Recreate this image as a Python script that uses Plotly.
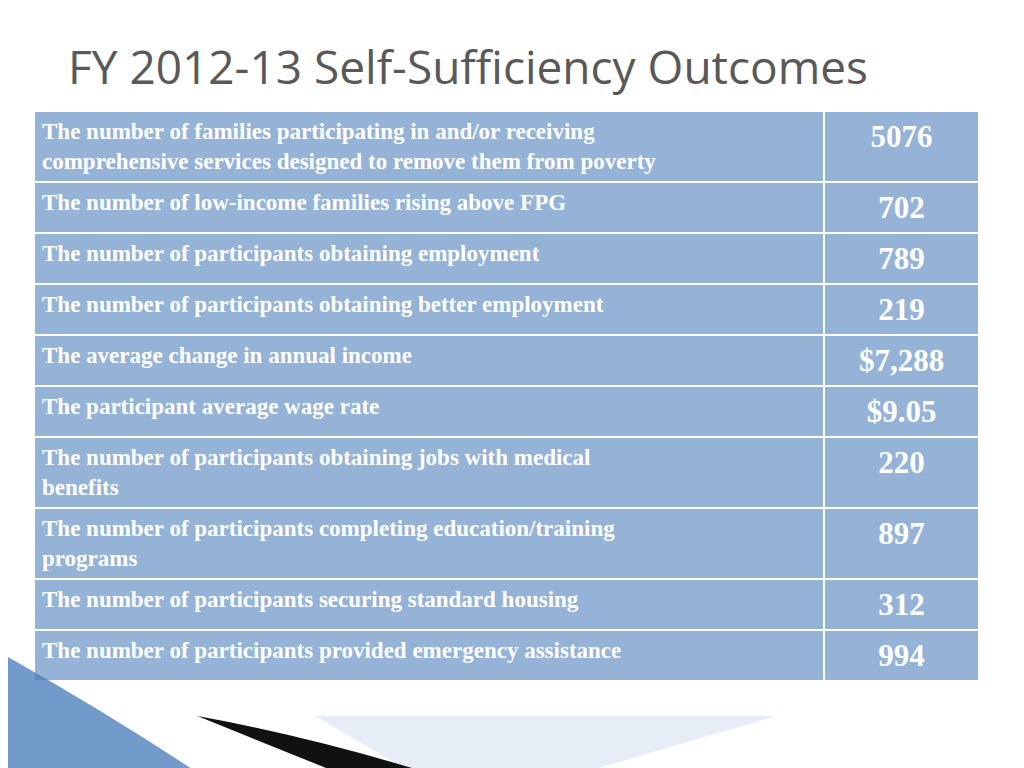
import plotly.graph_objects as go

title = "FY 2012-13 Self-Sufficiency Outcomes"

measures = [
    "The number of families participating in and/or receiving<br>comprehensive services designed to remove them from poverty",
    "The number of low-income families rising above FPG",
    "The number of participants obtaining employment",
    "The number of participants obtaining better employment",
    "The average change in annual income",
    "The participant average wage rate",
    "The number of participants obtaining jobs with medical<br>benefits",
    "The number of participants completing education/training<br>programs",
    "The number of participants securing standard housing",
    "The number of participants provided emergency assistance",
]
results = ["5076", "702", "789", "219", "$7,288", "$9.05", "220", "897", "312", "994"]

fig = go.Figure()

fig.add_trace(go.Table(
    domain=dict(x=[26 / 1024, 971 / 1024], y=[0.0, 1 - 103 / 768]),
    columnwidth=[790, 155],
    header=dict(values=["", ""], height=0, line=dict(width=0), fill=dict(color="rgba(0,0,0,0)")),
    cells=dict(
        values=[[f"<b>{m}</b>" for m in measures], [f"<b>{r}</b>" for r in results]],
        fill=dict(color="#95b3d7"),
        line=dict(color="white", width=2),
        align=["left", "center"],
        height=50,
        font=dict(family="Liberation Serif", color="white", size=[23, 31]),
    ),
))

# decorative swooshes in the bottom-left corner
fig.add_shape(type="path", xref="paper", yref="paper",
              path="M 0,0.155 Q 0.1,0.08 0.19,0 L 0,0 Z", fillcolor="#4f81bd", line=dict(width=0), opacity=0.8)
fig.add_shape(type="path", xref="paper", yref="paper",
              path="M 0.185,0.078 Q 0.3,0.05 0.42,0 L 0.33,0 Z", fillcolor="#111111", line=dict(width=0))
fig.add_shape(type="path", xref="paper", yref="paper",
              path="M 0.3,0.078 L 0.75,0.078 L 0.55,0 L 0.4,0 Z", fillcolor="#e6edf6", line=dict(width=0), layer="below")

fig.update_layout(
    width=1024, height=768,
    margin=dict(l=0, r=0, t=0, b=0),
    paper_bgcolor="white",
    title=dict(text=title, x=60 / 1024, xanchor="left", y=1 - 60 / 768, yanchor="middle",
               font=dict(family="Open Sans", size=46, color="#595959")),
)

fig.write_html("out.html")
